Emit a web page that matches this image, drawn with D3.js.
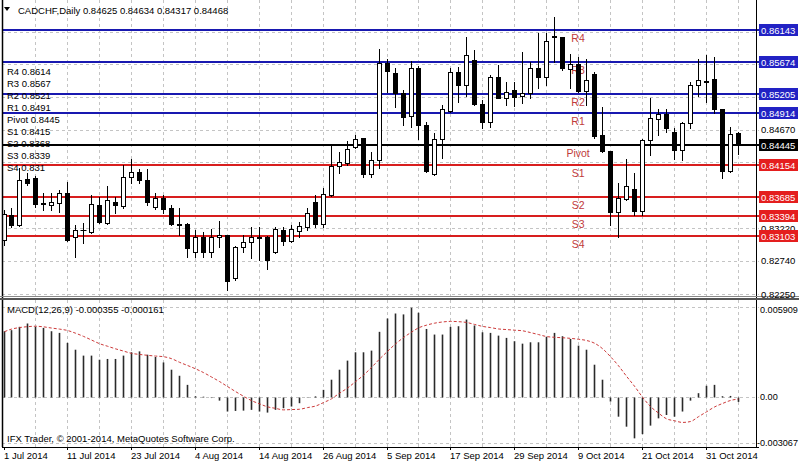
<!DOCTYPE html>
<html><head><meta charset="utf-8">
<script src="https://cdn.jsdelivr.net/npm/d3@7"></script>
<style>
body{margin:0;background:#fff}
svg text{font-family:"Liberation Sans",Arial,sans-serif;font-size:9.5px}
</style>
</head><body><svg id="c" width="799" height="464"></svg>
<script>
// ---------- DATA ----------
const opens = [
0.83046,0.83414,0.83267,0.83945,0.83960,0.83591,0.83562,0.83591,0.83739,0.83090,
0.83200,0.83164,0.83562,0.83296,0.83606,0.83547,0.83975,0.84049,0.83931,0.83532,
0.83665,0.83518,0.83282,0.83282,0.82869,0.83090,0.82869,0.83090,0.83119,0.82485,
0.82942,0.83016,0.83090,0.83090,0.82869,0.83193,0.83031,0.83178,0.83237,0.83606,
0.83282,0.83709,0.84137,0.84181,0.84417,0.84550,0.84019,0.84226,0.85656,0.85509,
0.85214,0.84875,0.85583,0.84742,0.84019,0.84535,0.84948,0.85524,0.85332,0.85701,
0.85052,0.84786,0.85450,0.85140,0.85258,0.85170,0.85214,0.85583,0.85450,0.86055,
0.86040,0.85568,0.85642,0.85243,0.85494,0.84594,0.84358,0.83459,0.83650,0.83798,
0.83473,0.84521,0.84830,0.84904,0.84639,0.84373,0.84771,0.85332,0.85391,0.85420,
0.84978,0.84063,0.84625];
const highs = [
0.83488,0.83518,0.84108,0.84034,0.83990,0.83739,0.83739,0.83783,0.83901,0.83267,
0.83296,0.83709,0.83680,0.83842,0.83680,0.84152,0.84240,0.84093,0.84093,0.83739,
0.83709,0.83562,0.83518,0.83290,0.83193,0.83164,0.83208,0.83326,0.83125,0.82957,
0.83119,0.83237,0.83237,0.83105,0.83237,0.83237,0.83267,0.83311,0.83518,0.83709,
0.83813,0.84432,0.84344,0.84506,0.84594,0.84555,0.84344,0.85863,0.85715,0.85583,
0.85258,0.85686,0.85612,0.84786,0.84624,0.85037,0.85583,0.85597,0.86040,0.85848,
0.85111,0.85479,0.85627,0.85376,0.85376,0.85819,0.85671,0.86099,0.86099,0.86335,
0.86045,0.85789,0.85745,0.85715,0.85524,0.85007,0.84365,0.83886,0.84240,0.84034,
0.84535,0.85140,0.84978,0.84978,0.84698,0.84786,0.85376,0.85715,0.85774,0.85745,
0.84985,0.84712,0.84634];
const lows = [
0.82972,0.83237,0.83252,0.83857,0.83532,0.83488,0.83488,0.83459,0.83031,0.82795,
0.83001,0.83149,0.83296,0.83282,0.83444,0.83518,0.83886,0.83886,0.83562,0.83503,
0.83444,0.83267,0.83119,0.82795,0.82795,0.82795,0.82795,0.82942,0.82308,0.82456,
0.82869,0.82780,0.82751,0.82618,0.82854,0.82972,0.83016,0.83090,0.83193,0.83237,
0.83237,0.83695,0.84034,0.84152,0.84403,0.83975,0.83975,0.84108,0.85229,0.85007,
0.84742,0.84712,0.84535,0.84055,0.84012,0.84255,0.84934,0.85081,0.85170,0.85037,
0.84698,0.84712,0.85135,0.85037,0.85022,0.85066,0.85140,0.85288,0.85332,0.85671,
0.85553,0.85288,0.85229,0.85037,0.84550,0.84344,0.83267,0.83090,0.83636,0.83414,
0.83414,0.84299,0.84594,0.84639,0.84240,0.84226,0.84698,0.85170,0.85081,0.84919,
0.83960,0.84049,0.84317];
const closes = [
0.83429,0.83267,0.83931,0.83886,0.83577,0.83577,0.83606,0.83739,0.83046,0.83193,
0.83193,0.83577,0.83311,0.83636,0.83562,0.83975,0.84049,0.83931,0.83606,0.83665,
0.83503,0.83282,0.83274,0.82928,0.83090,0.82869,0.83090,0.83119,0.82441,0.82942,
0.83016,0.83090,0.83082,0.82751,0.83208,0.83031,0.83208,0.83252,0.83444,0.83282,
0.83724,0.84137,0.84196,0.84388,0.84535,0.84019,0.84226,0.85656,0.85538,0.85214,
0.84860,0.85583,0.84742,0.84063,0.84535,0.84978,0.85524,0.85332,0.85774,0.85052,
0.84786,0.85450,0.85140,0.85229,0.85155,0.85214,0.85583,0.85450,0.85981,0.86047,
0.85583,0.85642,0.85243,0.85406,0.84580,0.84358,0.83459,0.83665,0.83842,0.83473,
0.84521,0.84845,0.84904,0.84698,0.84373,0.84771,0.85332,0.85406,0.85383,0.84978,
0.84063,0.84609,0.84468];

const macdHist = [
0.00431,0.00438,0.00460,0.00482,0.00460,0.00453,0.00431,0.00420,0.00354,0.00309,
0.00270,0.00270,0.00243,0.00248,0.00248,0.00270,0.00292,0.00298,0.00276,0.00261,
0.00225,0.00177,0.00137,0.00077,0.00002,-0.00001,-0.00010,-0.00027,-0.00099,-0.00095,
-0.00093,-0.00088,-0.00099,-0.00106,-0.00088,-0.00077,-0.00066,-0.00044,-0.00004,0.00001,
0.00044,0.00111,0.00177,0.00237,0.00292,0.00292,0.00303,0.00427,0.00515,0.00548,
0.00542,0.00586,0.00553,0.00446,0.00409,0.00409,0.00460,0.00464,0.00508,0.00469,
0.00424,0.00420,0.00402,0.00387,0.00365,0.00349,0.00358,0.00358,0.00393,0.00420,
0.00398,0.00380,0.00336,0.00309,0.00210,0.00111,-0.00033,-0.00133,-0.00199,-0.00276,
-0.00248,-0.00192,-0.00144,-0.00122,-0.00133,-0.00099,-0.00027,0.00022,0.00071,0.00077,
0.00002,0.00004,-0.000355];
const macdSignal = [
0.00428,0.00445,0.00455,0.00461,0.00464,0.00460,0.00452,0.00445,0.00436,0.00418,
0.00397,0.00373,0.00349,0.00332,0.00315,0.00300,0.00285,0.00278,0.00272,0.00267,
0.00263,0.00250,0.00226,0.00205,0.00183,0.00158,0.00129,0.00099,0.00066,0.00033,
0.00002,-0.00027,-0.00048,-0.00068,-0.00078,-0.00088,-0.00086,-0.00084,-0.00073,-0.00063,
-0.00040,-0.00015,0.00022,0.00056,0.00098,0.00141,0.00192,0.00247,0.00298,0.00347,
0.00389,0.00425,0.00453,0.00471,0.00484,0.00492,0.00496,0.00494,0.00489,0.00476,
0.00463,0.00455,0.00446,0.00442,0.00438,0.00434,0.00422,0.00409,0.00396,0.00391,
0.00388,0.00384,0.00378,0.00370,0.00352,0.00316,0.00263,0.00203,0.00134,0.00068,
-0.00004,-0.00066,-0.00109,-0.00147,-0.00160,-0.00171,-0.00165,-0.00133,-0.00101,-0.00069,
-0.00046,-0.00026,-0.000161];

const pivotNames  = ["R4","R3","R2","R1","Pivot","S1","S2","S3","S4"];
const pivotValues = [0.86143,0.85674,0.85205,0.84914,0.84445,0.84154,0.83685,0.83394,0.83103];
const pivotShort  = ["0.8614","0.8567","0.8521","0.8491","0.8445","0.8415","0.8368","0.8339","0.831"];
const pivotKinds  = ["R","R","R","R","P","S","S","S","S"];

const priceGrid = [0.82250,0.82740,0.83220,0.83700,0.84190,0.84670,0.85150,0.85640,0.86120];
const priceTickLabels = [0.84670,0.83220,0.82740,0.82250];
const macdTickValues = [0.005909,0,-0.003067];
const macdTickLabels = ["0.005909","0.00","-0.003067"];
const dateTickIndex  = [0,8,16,24,32,40,48,56,64,72,80,88];
const dateTickLabels = ["1 Jul 2014","11 Jul 2014","23 Jul 2014","4 Aug 2014","14 Aug 2014","26 Aug 2014",
                        "5 Sep 2014","17 Sep 2014","29 Sep 2014","9 Oct 2014","21 Oct 2014","31 Oct 2014"];
const headerText = "CADCHF,Daily  0.84625 0.84634 0.84317 0.84468";
const macdText = "MACD(12,26,9) -0.000355 -0.000161";
const footerText = "IFX Trader, \u00A9 2001-2014, MetaQuotes Software Corp.";
const pivotLabelBar = 72;

// ---------- LAYOUT ----------
const W = 799, H = 464;
const L = 2, R = 756, mainTop = 0, mainBot = 297, subTop = 300, subBot = 447;
const svg = d3.select("#c");
const n = opens.length;
const x = d3.scaleLinear().domain([0, 92]).range([3.5, 737.7]);
const y = d3.scaleLinear().domain([0.82250, 0.86143]).range([294, 30]);
const ym = d3.scaleLinear().domain([-0.003067, 0.005909]).range([443, 307]);
const px = i => Math.round(x(i));
const colR = "#1818b0", colS = "#d81e1e", colP = "#000";
const boxR = "#2222c4", boxS = "#e41e1e";
const kindCol = k => k === "R" ? colR : (k === "S" ? colS : colP);
const kindBox = k => k === "R" ? boxR : (k === "S" ? boxS : "#000");

svg.append("rect").attr("width", W).attr("height", H).attr("fill", "#fff");

svg.append("clipPath").attr("id","mainclip").append("rect")
  .attr("x", L+1).attr("y", mainTop).attr("width", R-L-1).attr("height", mainBot-mainTop);
svg.append("clipPath").attr("id","subclip").append("rect")
  .attr("x", L+1).attr("y", subTop).attr("width", R-L-1).attr("height", subBot-subTop);

const grid = svg.append("g").attr("stroke", "#c4c4c4").attr("stroke-dasharray", "3,3").attr("stroke-width", 1);
const vIdx = d3.range(4, n, 4);
vIdx.forEach(i => {
  grid.append("line").attr("x1", px(i)+0.5).attr("x2", px(i)+0.5).attr("y1", mainTop).attr("y2", mainBot);
  grid.append("line").attr("x1", px(i)+0.5).attr("x2", px(i)+0.5).attr("y1", subTop).attr("y2", subBot);
});
priceGrid.forEach(v => {
  const yy = Math.round(y(v)) + 0.5;
  grid.append("line").attr("x1", L).attr("x2", R+3).attr("y1", yy).attr("y2", yy);
});
macdTickValues.forEach(v => {
  const yy = Math.round(ym(v)) + 0.5;
  grid.append("line").attr("x1", L).attr("x2", R+3).attr("y1", yy).attr("y2", yy);
});

// ---------- PIVOT LINES ----------
const piv = svg.append("g");
pivotValues.forEach((v, k) => {
  const yy = Math.round(y(v));
  piv.append("line").attr("x1", L).attr("x2", R+3).attr("y1", yy).attr("y2", yy)
    .attr("stroke", kindCol(pivotKinds[k])).attr("stroke-width", 2);
});
pivotValues.forEach((v, k) => {
  piv.append("text").attr("x", x(pivotLabelBar)).attr("y", y(v) + 12)
    .attr("text-anchor", "middle").attr("fill", "#c03a3a").style("font-size", "10.5px")
    .text(pivotNames[k]);
});

// ---------- CANDLES ----------
const cg = svg.append("g").attr("clip-path", "url(#mainclip)");
for (let i = 0; i < n; i++) {
  const cx = px(i) + 0.5;
  cg.append("line").attr("x1", cx).attr("x2", cx)
    .attr("y1", Math.round(y(highs[i]))).attr("y2", Math.round(y(lows[i])) + 1)
    .attr("stroke", "#000").attr("stroke-width", 1);
  const yo = Math.round(y(opens[i])), yc = Math.round(y(closes[i]));
  const top = Math.min(yo, yc), bot = Math.max(yo, yc);
  if (bot - top < 1) {
    cg.append("line").attr("x1", cx - 3).attr("x2", cx + 3).attr("y1", top + 0.5).attr("y2", top + 0.5)
      .attr("stroke", "#000").attr("stroke-width", 1);
  } else {
    const up = closes[i] >= opens[i];
    cg.append("rect").attr("x", cx - 2).attr("y", top + 0.5).attr("width", 4).attr("height", bot - top)
      .attr("fill", up ? "#fff" : "#000").attr("stroke", "#000").attr("stroke-width", 1);
  }
}

// ---------- MACD ----------
const mg = svg.append("g").attr("clip-path", "url(#subclip)");
const z0 = Math.round(ym(0)) + 0.5;
macdHist.forEach((v, i) => {
  mg.append("line").attr("x1", px(i) + 0.5).attr("x2", px(i) + 0.5)
    .attr("y1", z0).attr("y2", ym(v))
    .attr("stroke", "#2a2a2a").attr("stroke-width", 1.6);
});
mg.append("path").datum(macdSignal)
  .attr("d", d3.line().x((d, i) => px(i) + 0.5).y(d => ym(d)).curve(d3.curveMonotoneX))
  .attr("fill", "none").attr("stroke", "#cc3a3a").attr("stroke-width", 1).attr("stroke-dasharray", "3,2");

// ---------- FRAMES ----------
const fr = svg.append("g").attr("stroke", "#000").attr("fill", "none");
fr.append("line").attr("x1", L+0.5).attr("x2", L+0.5).attr("y1", 0).attr("y2", subBot).attr("stroke-width", 1.5);
fr.append("line").attr("x1", R+0.5).attr("x2", R+0.5).attr("y1", 0).attr("y2", subBot);
fr.append("line").attr("x1", 0).attr("x2", W).attr("y1", 296.5).attr("y2", 296.5).attr("stroke", "#888");
fr.append("line").attr("x1", 0).attr("x2", W).attr("y1", 299).attr("y2", 299).attr("stroke", "#555").attr("stroke-width", 2);
fr.append("line").attr("x1", L).attr("x2", R+3).attr("y1", subBot+0.5).attr("y2", subBot+0.5);

// ---------- RIGHT AXIS ----------
const ax = svg.append("g");
priceTickLabels.forEach(v => {
  ax.append("text").attr("x", 761).attr("y", y(v) + 3.5).attr("fill", "#000").text(v.toFixed(5));
});
pivotValues.forEach((v, k) => {
  const yy = Math.round(y(v));
  ax.append("rect").attr("x", 759).attr("y", yy - 6).attr("width", 39).attr("height", 12)
    .attr("fill", kindBox(pivotKinds[k]));
  ax.append("text").attr("x", 761).attr("y", yy + 3.5).attr("fill", "#fff").text(v.toFixed(5));
});
macdTickValues.forEach((v, k) => {
  const yy = k === 0 ? ym(v) + 2 : (k === 2 ? ym(v) - 1 : ym(v));
  const neg = macdTickLabels[k].startsWith("-");
  ax.append("text").attr("x", neg ? 757 : 760).attr("y", yy + 3.5)
    .style("font-size", "9.1px").attr("fill", "#000").text(macdTickLabels[k]);
});

// ---------- DATE AXIS ----------
dateTickIndex.forEach((i, k) => {
  svg.append("line").attr("x1", px(i) + 0.5).attr("x2", px(i) + 0.5).attr("y1", subBot).attr("y2", subBot + 3)
    .attr("stroke", "#000");
  svg.append("text").attr("x", px(i)).attr("y", 459).attr("fill", "#000").text(dateTickLabels[k]);
});

// ---------- TEXTS ----------
svg.append("path").attr("d", "M4,7 L10,7 L7,11 Z").attr("fill", "#000");
svg.append("text").attr("x", 18).attr("y", 13.5).attr("fill", "#000").text(headerText);
pivotNames.forEach((nm, k) => {
  svg.append("text").attr("x", 7).attr("y", 74.5 + k * 12).attr("fill", "#000")
    .text(nm + " " + pivotShort[k]);
});
svg.append("text").attr("x", 7).attr("y", 312.5).attr("fill", "#000").text(macdText);
svg.append("text").attr("x", 7).attr("y", 442).attr("fill", "#000").text(footerText);
</script>
</body></html>
